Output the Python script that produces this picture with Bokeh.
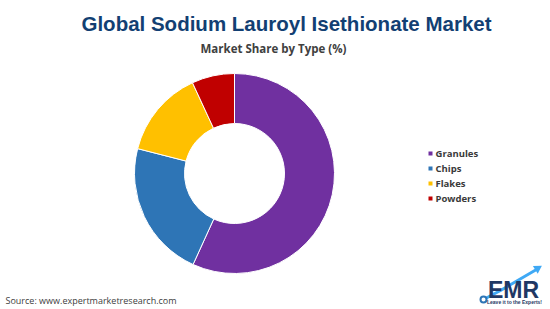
import numpy as np
from bokeh.plotting import figure
from bokeh.models import Range1d, ColumnDataSource
from bokeh.core.properties import value
from bokeh.embed import file_html
from bokeh.resources import INLINE

categories = ["Granules", "Chips", "Flakes", "Powders"]
shares = [56.8, 22.2, 14.1, 6.9]
colors = ["#7030A0", "#2E75B6", "#FFC000", "#C00000"]

W, H = 550, 309
p = figure(width=W, height=H, output_backend="svg", toolbar_location=None,
           x_range=Range1d(0, W), y_range=Range1d(0, H), min_border=0,
           background_fill_color="white", border_fill_color="white")
p.axis.visible = False
p.grid.visible = False
p.outline_line_color = None

def Y(py):
    return H - py

# donut
vals = np.array(shares, dtype=float)
frac = vals / vals.sum()
ends = np.cumsum(frac) * 2 * np.pi
starts = ends - frac * 2 * np.pi
src = ColumnDataSource(dict(start=np.pi / 2 - starts, end=np.pi / 2 - ends,
                            color=colors, cat=categories))
cx, cy = 234, Y(173)
p.annular_wedge(x=cx, y=cy, inner_radius=50, outer_radius=100,
                start_angle="start", end_angle="end", direction="clock",
                fill_color="color", line_color="white", line_width=1, source=src)

# titles
p.text(x=[286], y=[Y(23)], text=["Global Sodium Lauroyl Isethionate Market"],
       text_font=value("Liberation Sans"), text_font_style="bold", text_font_size="20.5px",
       text_color="#123F73", text_align="center", text_baseline="middle")
p.text(x=[273], y=[Y(48)], text=["Market Share by Type (%)"],
       text_font=value("Open Sans"), text_font_style="bold", text_font_size="11.5px",
       text_color="#404040", text_align="center", text_baseline="middle")

# legend
ly = [Y(153 + 15 * i) for i in range(len(categories))]
p.rect(x=[430] * len(categories), y=ly, width=4, height=4, fill_color=colors, line_color=None)
p.text(x=[435] * len(categories), y=ly, text=categories,
       text_font=value("Open Sans"), text_font_style="bold", text_font_size="9.5px",
       text_color="#3A3A3A", text_align="left", text_baseline="middle")

# source
p.text(x=[5], y=[Y(300)], text=["Source: www.expertmarketresearch.com"],
       text_font=value("Open Sans"), text_font_size="9px",
       text_color="#404040", text_align="left", text_baseline="middle")

# logo
p.line(x=[483, 500, 512, 536], y=[Y(299), Y(290), Y(283), Y(269)], line_color="#3FA9F5", line_width=3)
p.scatter(x=[537], y=[Y(268)], marker="triangle", size=9, angle=-1.0,
          fill_color="#3FA9F5", line_color=None)
p.circle(x=[483], y=[Y(299)], radius=3, fill_color="white", line_color="#2E75B6", line_width=2)
p.text(x=[513], y=[Y(289)], text=["EMR"], text_font=value("Liberation Sans"),
       text_font_style="bold", text_font_size="23px", text_color="#1F3864",
       text_align="center", text_baseline="middle")
p.text(x=[514], y=[Y(301)], text=["Leave it to the Experts!"], text_font=value("Liberation Sans"),
       text_font_style="bold", text_font_size="5px", text_color="#1F3864",
       text_align="center", text_baseline="middle")

open("out.html", "w").write(file_html(p, INLINE))
